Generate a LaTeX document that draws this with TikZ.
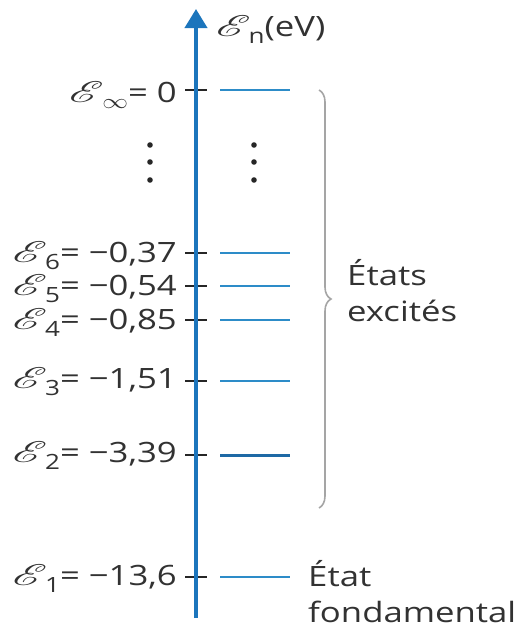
\documentclass[tikz,border=0pt]{standalone}
\usepackage{fontspec}
\setmainfont{Open Sans}
\usepackage{mathrsfs}
\usetikzlibrary{decorations.pathreplacing,arrows.meta}
\definecolor{axisblue}{RGB}{28,117,188}
\definecolor{levelblue}{RGB}{45,140,200}
\definecolor{leveldark}{RGB}{30,105,165}
\definecolor{bracegray}{RGB}{165,165,165}
\definecolor{txt}{RGB}{50,50,50}
\newcommand{\hs}[1]{\scalebox{1.24}[1]{#1}}
\newcommand{\bigE}{\scalebox{1.5}[1.2]{$\mathscr{E}$}}
\newcommand{\En}[1]{\bigE\kern-0.06em\raisebox{-0.26em}{\fontsize{21}{21}\selectfont #1}}
\newcommand{\Einf}{\bigE\kern-0.04em\raisebox{-0.22em}{$\scriptstyle\infty$}}
\tikzset{
  lab/.style={anchor=base east, inner sep=0pt, text=txt, font=\fontsize{28}{34}\selectfont},
  side/.style={anchor=base west, inner sep=0pt, text=txt, font=\fontsize{28}{34}\selectfont},
  tickmark/.style={draw=black!85, line width=2pt},
  level/.style={draw=levelblue, line width=2.4pt},
  axisline/.style={draw=axisblue, line width=4pt},
  dotmark/.style={fill=black!85},
}
\begin{document}
\begin{tikzpicture}[x=1pt,y=-1pt]
\useasboundingbox (0,0) rectangle (517,630);
% level heights
\foreach \name/\yy in {inf/90, six/252.7, five/286, four/320, three/380.7, two/455, one/576.7}{
  \coordinate (t\name a) at (185,\yy);
  \coordinate (t\name b) at (207,\yy);
  \coordinate (l\name a) at (220,\yy);
  \coordinate (l\name b) at (290,\yy);
}
% ticks
\foreach \name in {inf,six,five,four,three,two,one}{
  \draw[tickmark] (t\name a) -- (t\name b);
}
% level lines
\foreach \name in {inf,six,five,four,three,one}{
  \draw[level] (l\name a) -- (l\name b);
}
\draw[level, draw=leveldark, line width=3pt] (ltwoa) -- (ltwob);
% axis
\coordinate (axbot) at (196,618);
\coordinate (axtop) at (196,9);
\draw[axisline, -{Triangle[length=19pt,width=22pt]}] (axbot) -- (axtop);
% axis label
\node[side] (axlab) at (216,36) {\hs{\En{n}(eV)}};
% labels
\node[lab] (labinf) at (177,102) {\hs{\Einf= 0}};
\node[lab] (lab6) at (177,262) {\hs{\En{6}= −0,37}};
\node[lab] (lab5) at (177,295.5) {\hs{\En{5}= −0,54}};
\node[lab] (lab4) at (177,329.5) {\hs{\En{4}= −0,85}};
\node[lab] (lab3) at (177,388.5) {\hs{\En{3}= −1,51}};
\node[lab] (lab2) at (177,462) {\hs{\En{2}= −3,39}};
\node[lab] (lab1) at (177,585.5) {\hs{\En{1}= −13,6}};
% dots
\foreach \yy in {145,162,180}{
  \fill[dotmark] (150,\yy) circle (2.8);
  \fill[dotmark] (254,\yy) circle (2.8);
}
% brace
\coordinate (brtop) at (319,90);
\coordinate (brbot) at (319,508);
\draw[draw=bracegray, line width=1.6pt, decorate, decoration={brace, amplitude=12pt}] (brtop) -- (brbot);
% side texts
\node[side] (etats) at (347,285) {\hs{États}};
\node[side] (excites) at (347,321) {\hs{excités}};
\node[side] (etat) at (308,586) {\hs{État}};
\node[side] (fond) at (308,622) {\hs{fondamental}};
\end{tikzpicture}
\end{document}
